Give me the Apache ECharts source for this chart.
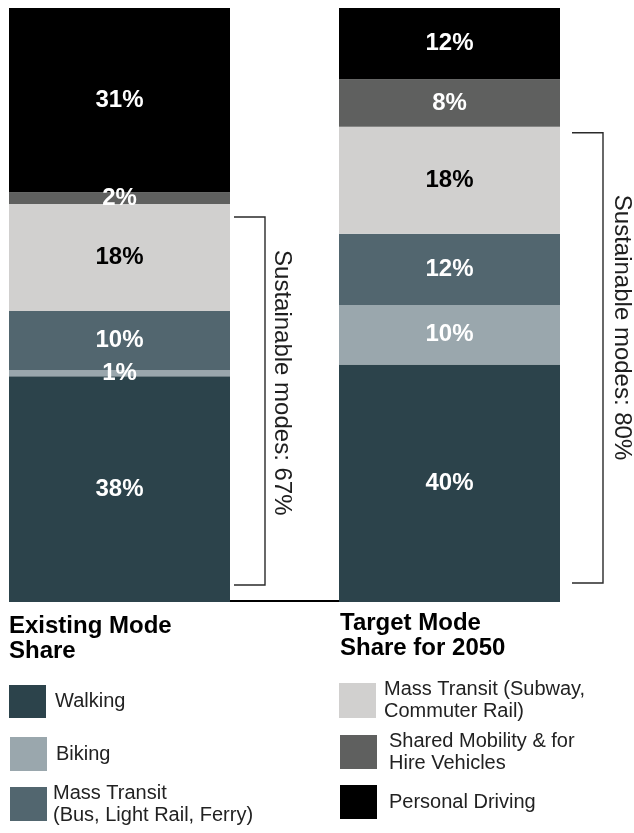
<!DOCTYPE html>
<html>
<head>
<meta charset="utf-8">
<script src="https://cdn.jsdelivr.net/npm/echarts@6/dist/echarts.min.js"></script>
<style>
  html, body { margin: 0; padding: 0; background: #fff; }
  #chart { width: 634px; height: 833px; }
</style>
</head>
<body>
<div id="chart"></div>
<script>
// Mode share, percent of trips: existing vs. 2050 target
const categories = ['Existing Mode\nShare', 'Target Mode\nShare for 2050'];
const modeNames = [
  'Walking',
  'Biking',
  'Mass Transit\n(Bus, Light Rail, Ferry)',
  'Mass Transit (Subway,\nCommuter Rail)',
  'Shared Mobility & for\nHire Vehicles',
  'Personal Driving'
];
const walking = [38, 40];
const biking = [1, 10];
const transitBus = [10, 12];
const transitRail = [18, 18];
const sharedMobility = [2, 8];
const personalDriving = [31, 12];
const sustainablePrefix = 'Sustainable modes: ';

const FONT = '"Liberation Sans", Arial, Helvetica, sans-serif';
const colors = ['#2c434b', '#9aa7ad', '#52666f', '#d1d0cf', '#5f605f', '#000000'];
const labelColors = ['#fff', '#fff', '#fff', '#000', '#fff', '#fff'];
const seriesValues = [walking, biking, transitBus, transitRail, sharedMobility, personalDriving];
const BAR_W = 221;

const chart = echarts.init(document.getElementById('chart'), null, { renderer: 'canvas' });

const series = seriesValues.map((vals, i) => ({
  name: modeNames[i],
  type: 'bar',
  stack: 'share',
  barWidth: BAR_W,
  data: vals,
  itemStyle: { color: colors[i] },
  label: {
    show: true,
    position: 'inside',
    formatter: '{c}%',
    color: labelColors[i],
    fontFamily: FONT,
    fontWeight: 'bold',
    fontSize: 24
  },
  emphasis: { disabled: true }
}));

// one legend block per mode so each swatch sits where it belongs
function legendAt(idx, left, iconTop, iconH, textGap) {
  const lines = modeNames[idx].split('\n').length;
  const lh = 22;
  const textH = lines * lh;
  const top = textH > iconH ? iconTop - (textH - iconH) / 2 : iconTop;
  return {
    data: [modeNames[idx]],
    left: left,
    top: top,
    padding: 0,
    orient: 'vertical',
    icon: 'rect',
    itemWidth: 37,
    itemHeight: iconH,
    selectedMode: false,
    textStyle: {
      fontFamily: FONT,
      fontSize: 20,
      lineHeight: lh,
      color: '#222',
      padding: [0, 0, 0, textGap]
    }
  };
}

const titleStyle = { fontFamily: FONT, fontSize: 24, fontWeight: 'bold', lineHeight: 25, color: '#000' };

const option = {
  animation: false,
  backgroundColor: '#fff',
  title: [
    { text: categories[0], left: 9, top: 614, padding: 0, textStyle: titleStyle },
    { text: categories[1], left: 340, top: 611, padding: 0, textStyle: titleStyle }
  ],
  legend: [
    legendAt(0, 9, 685, 33, 4),
    legendAt(1, 10, 737, 34, 4),
    legendAt(2, 10, 787, 34, 1),
    legendAt(3, 339, 683, 35, 3),
    legendAt(4, 340, 735, 34, 7),
    legendAt(5, 340, 785, 34, 7)
  ],
  grid: { left: 119.5, right: 184.5, top: 8, bottom: 231 },
  xAxis: {
    type: 'category',
    data: categories,
    boundaryGap: false,
    offset: -1,
    axisLine: { lineStyle: { color: '#000', width: 2 } },
    axisTick: { show: false },
    axisLabel: { show: false },
    splitLine: { show: false }
  },
  yAxis: {
    type: 'value',
    min: 0,
    max: 100,
    show: false
  },
  series: series
};

chart.setOption(option);

// brackets spanning the sustainable modes (walking, biking, transit)
const sustainable = categories.map((_, i) => walking[i] + biking[i] + transitBus[i] + transitRail[i]);
const bracketGeom = [
  { near: 4, far: 35, topInset: 13, botInset: 17, textDx: 17, textDy: 33 },
  { near: 12, far: 43, topInset: 6, botInset: 19, textDx: 19, textDy: 62 }
];
const graphics = [];
categories.forEach((_, i) => {
  const g = bracketGeom[i];
  const pTop = chart.convertToPixel({ gridIndex: 0 }, [i, sustainable[i]]);
  const pBot = chart.convertToPixel({ gridIndex: 0 }, [i, 0]);
  const edge = pTop[0] + BAR_W / 2;
  const x1 = edge + g.near, x2 = edge + g.far;
  const yT = pTop[1] + g.topInset, yB = pBot[1] - g.botInset;
  graphics.push({
    type: 'polyline',
    shape: { points: [[x1, yT], [x2, yT], [x2, yB], [x1, yB]] },
    style: { stroke: '#2a2a2a', lineWidth: 1.4, fill: null },
    silent: true
  });
  graphics.push({
    type: 'text',
    x: x2 + g.textDx,
    y: yT + g.textDy,
    rotation: -Math.PI / 2,
    style: {
      text: sustainablePrefix + sustainable[i] + '%',
      font: '24px ' + FONT,
      fill: '#1e1e1e',
      align: 'left',
      verticalAlign: 'middle'
    },
    silent: true
  });
});
chart.setOption({ graphic: graphics });
</script>
</body>
</html>
